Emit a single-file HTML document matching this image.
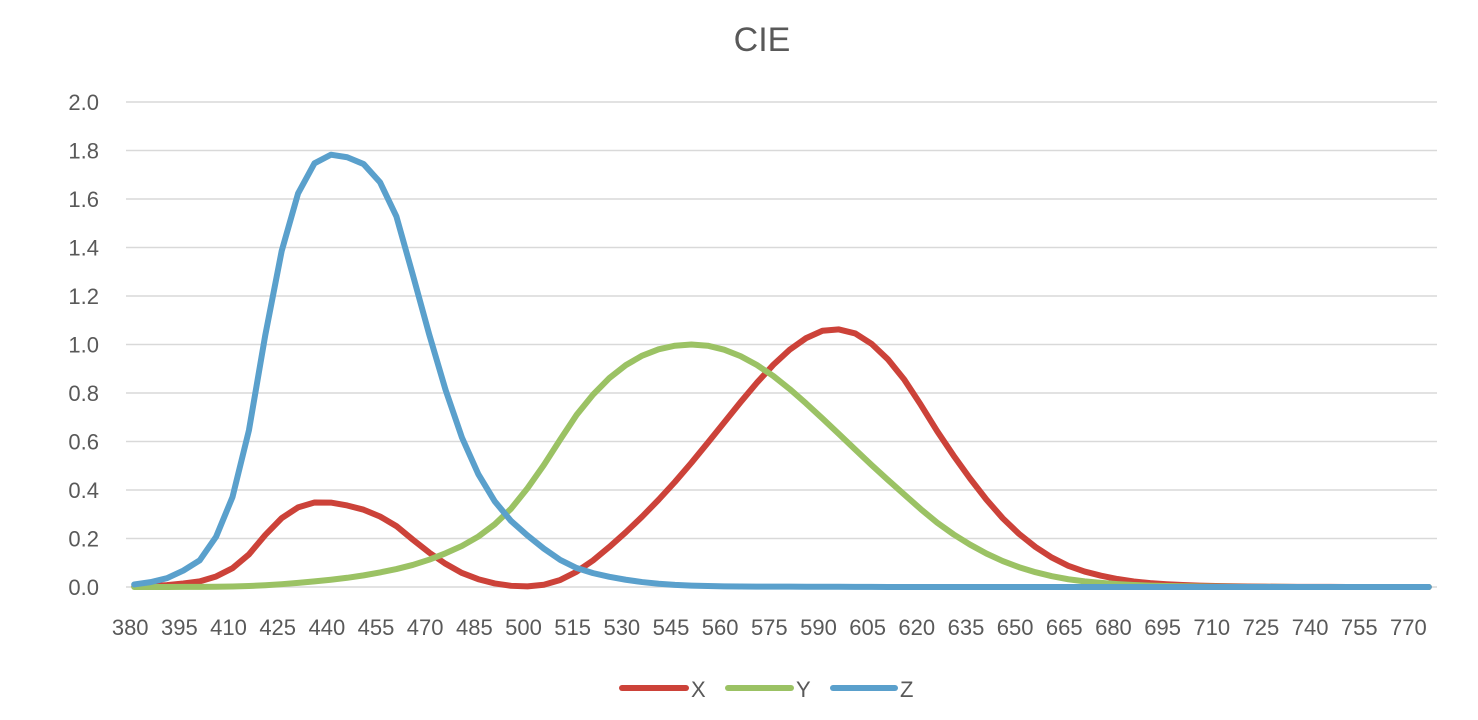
<!DOCTYPE html>
<html><head><meta charset="utf-8"><style>
body{margin:0;background:#fff;}
svg{display:block;font-family:"Liberation Sans",sans-serif;}
</style></head><body>
<svg id="chart" width="1478" height="720">
<text x="762" y="51" font-size="34" fill="#595959" text-anchor="middle">CIE</text>
<g id="grid"></g><g id="ylab"></g><g id="xlab"></g><g id="lines"></g>
<g>
<g><line x1="622" y1="688" x2="686" y2="688" stroke="#CC4239" stroke-width="6" stroke-linecap="round"/><text x="691" y="697" font-size="22" fill="#595959">X</text></g>
<g><line x1="728" y1="688" x2="791" y2="688" stroke="#9BC264" stroke-width="6" stroke-linecap="round"/><text x="796" y="697" font-size="22" fill="#595959">Y</text></g>
<g><line x1="833" y1="688" x2="895" y2="688" stroke="#5AA0CC" stroke-width="6" stroke-linecap="round"/><text x="900" y="697" font-size="22" fill="#595959">Z</text></g>
</g>
</svg>
<script>
const wavelengths=[];for(let w=380;w<=775;w+=5)wavelengths.push(w);
const xBar=[.002236,.004243,.00765,.01431,.02319,.04351,.07763,.13438,.21477,.2839,.3285,.34828,.34806,.3362,.3187,.2908,.2511,.19536,.1421,.09564,.05795,.03201,.0147,.0049,.0024,.0093,.0291,.06327,.1096,.1655,.22575,.2904,.3597,.43345,.51205,.5945,.6784,.7621,.8425,.9163,.9786,1.0263,1.0567,1.0622,1.0456,1.0026,.9384,.85445,.7514,.6424,.5419,.4479,.3608,.2835,.2187,.1649,.1212,.0874,.0636,.04677,.0329,.0227,.01584,.011359,.008111,.00579,.004109,.002899,.002049,.00144,.000999,.00069,.000476,.000332,.000235,.000166,.000117,.000083,.000059,.000042];
const yBar=[.000064,.00012,.000217,.000396,.00064,.00121,.00218,.004,.0073,.0116,.01684,.023,.0298,.038,.048,.06,.0739,.09098,.1126,.13902,.1693,.20802,.2586,.323,.4073,.503,.6082,.71,.7932,.862,.91485,.954,.9803,.99495,1.0,.995,.9786,.952,.9154,.87,.8163,.757,.6949,.631,.5668,.503,.4412,.381,.321,.265,.217,.175,.1382,.107,.0816,.061,.04458,.032,.0232,.017,.01192,.00821,.005723,.004102,.002929,.002091,.001484,.001047,.00074,.00052,.000361,.000249,.000172,.00012,.0000848,.00006,.0000424,.00003,.0000212,.000015];
const zBar=[.01055,.02005,.03621,.06785,.1102,.2074,.3713,.6456,1.03905,1.3856,1.62296,1.74706,1.7826,1.77211,1.7441,1.6692,1.5281,1.28764,1.0419,.81295,.6162,.46518,.3533,.272,.2123,.1582,.1117,.07825,.05725,.04216,.02984,.0203,.0134,.00875,.00575,.0039,.00275,.0021,.0018,.00165,.0014,.0011,.001,.0008,.0006,.00034,.00024,.00019,.0001,.00005,.00003,.00002,.00001,0,0,0,0,0,0,0,0,0,0,0,0,0,0,0,0,0,0,0,0,0,0,0,0,0,0,0];
const yTicks=[0,0.2,0.4,0.6,0.8,1.0,1.2,1.4,1.6,1.8,2.0];
const NS="http://www.w3.org/2000/svg";
const L=126,R=1437,T=102,B=587,n=wavelengths.length;
const xs=i=>L+(R-L)/n*(i+0.5);
const ys=v=>B-(v/2)*(B-T);
function mk(tag,attrs,parent){const e=document.createElementNS(NS,tag);for(const k in attrs)e.setAttribute(k,attrs[k]);parent.appendChild(e);return e;}
const grid=document.getElementById('grid'),ylab=document.getElementById('ylab'),xlab=document.getElementById('xlab'),lines=document.getElementById('lines');
yTicks.forEach(v=>{
 const g=mk('line',{x1:L,x2:R,y1:ys(v),y2:ys(v),stroke:'#d9d9d9','stroke-width':1.5},grid);
 
 
 const t=mk('text',{x:99,y:ys(v)+8,'font-size':22,fill:'#595959','text-anchor':'end'},ylab);
 t.textContent=v.toFixed(1);
 
 
});
wavelengths.forEach((w,i)=>{
 if(i%3!==0)return;
 const t=mk('text',{x:xs(i)-4,y:635,'font-size':22,fill:'#595959','text-anchor':'middle'},xlab);
 t.textContent=w;
 
 
});
[[xBar,'#CC4239','series-x'],[yBar,'#9BC264','series-y'],[zBar,'#5AA0CC','series-z']].forEach(([d,c,name])=>{
 const p=mk('polyline',{points:d.map((v,i)=>xs(i)+','+ys(v)).join(' '),fill:'none',stroke:c,'stroke-width':6,'stroke-linejoin':'round','stroke-linecap':'round'},lines);
 
 
});
</script>
</body></html>
